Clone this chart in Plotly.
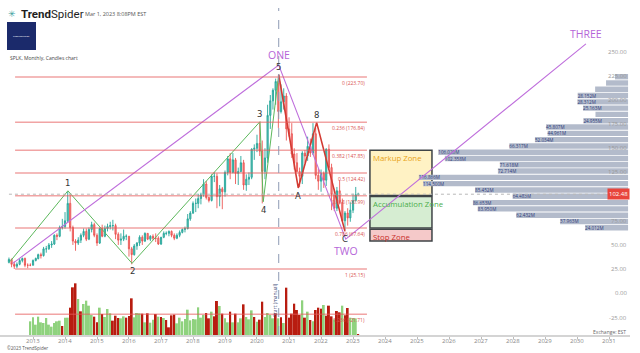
import pandas as pd
import plotly.graph_objects as go

# ---------------- DATA ----------------
candle_start = "2012-04-01"
opens = [
    32, 35, 30, 28, 30, 34, 36, 29, 29,
    29, 34, 36, 40, 39, 46, 46, 50, 51, 60, 59, 68,
    69, 75, 93, 68, 54, 52, 55, 60, 64, 56, 66, 71,
    60, 52, 67, 59, 67, 69, 70, 70, 61, 55, 56, 59,
    59, 46, 40, 49, 52, 58, 54, 62, 56, 59, 57, 57,
    51, 58, 62, 62, 64, 60, 57, 60, 63, 66, 67, 77,
    83, 93, 93, 98, 102, 113, 99, 96, 121, 121, 100, 108,
    105, 125, 139, 125, 138, 124, 126, 135, 112, 118, 120, 149,
    150, 155, 147, 126, 140, 184, 199, 210, 219, 188, 198, 204,
    170, 165, 144, 135, 126, 121, 145, 142, 152, 145, 165, 122,
    116, 124, 117, 149, 130, 102, 88, 106, 94, 75, 83, 78,
    86, 96, 102]
highs = [
    37, 36, 33, 32, 36, 37, 37, 31, 31,
    35, 37, 41, 42, 48, 49, 52, 54, 61, 62, 70, 77,
    84, 105, 103, 70, 56, 58, 62, 67, 67, 68, 74, 73,
    62, 68, 71, 70, 72, 74, 76, 72, 63, 62, 66, 61,
    59, 48, 51, 53, 60, 60, 63, 62, 60, 61, 62, 59,
    58, 64, 64, 65, 65, 62, 62, 65, 67, 69, 82, 85,
    95, 98, 103, 104, 118, 116, 100, 123, 125, 124, 112, 110,
    127, 142, 145, 145, 140, 130, 142, 138, 123, 125, 150, 154,
    164, 176, 158, 150, 195, 205, 212, 222, 226, 216, 212, 207,
    182, 176, 150, 145, 130, 147, 148, 162, 160, 176, 171, 129,
    128, 126, 150, 154, 134, 108, 110, 117, 98, 85, 88, 94,
    103, 110, 104]
lows = [
    31, 27, 25.15, 26, 29, 32, 27, 26, 28,
    29, 33, 35, 36, 38, 42, 45, 47, 50, 55, 58, 66,
    67, 73, 64, 50, 44, 50, 52, 58, 54, 55, 63, 58,
    49, 51, 58, 58, 64, 66, 65, 56, 50, 50, 54, 55,
    38, 30, 39, 45, 49, 50, 53, 55, 54, 55, 53, 50,
    50, 57, 60, 59, 58, 55, 56, 58, 62, 63, 66, 75,
    82, 84, 88, 92, 100, 97, 94, 95, 115, 88, 90, 87,
    100, 122, 118, 124, 113, 112, 125, 107, 106, 112, 118, 138,
    146, 142, 93, 118, 135, 170, 190, 195, 171, 186, 190, 158,
    162, 140, 128, 125, 110, 113, 135, 137, 141, 143, 118, 107,
    105, 109, 111, 128, 86, 85, 85, 92, 74, 65.5, 70, 74,
    83, 95, 101]
closes = [
    35, 30, 28, 30, 34, 36, 29, 29, 29,
    34, 36, 40, 39, 46, 46, 50, 51, 60, 59, 68, 69,
    75, 93, 68, 54, 52, 55, 60, 64, 56, 66, 71, 60,
    52, 67, 59, 67, 69, 70, 70, 61, 55, 56, 59, 59,
    46, 40, 49, 52, 58, 54, 62, 56, 59, 57, 57, 51,
    58, 62, 62, 64, 60, 57, 60, 63, 66, 67, 77, 83,
    93, 93, 98, 102, 113, 99, 96, 121, 121, 100, 108, 105,
    125, 139, 125, 138, 124, 126, 135, 112, 118, 120, 149, 150,
    155, 147, 126, 140, 184, 199, 210, 219, 188, 198, 204, 170,
    165, 144, 135, 126, 121, 145, 142, 152, 145, 165, 122, 116,
    124, 117, 149, 130, 102, 88, 106, 94, 75, 83, 78, 86,
    96, 102, 102.48]

volume_start = "2012-12-01"
volumes = [
    41, 53, 31, 55, 38, 36, 51, 31, 25, 36, 41, 43,
    27, 52, 52, 82, 143, 155, 108, 71, 93, 103, 88, 60,
    55, 38, 82, 63, 54, 78, 65, 43, 58, 51, 50, 56,
    52, 57, 110, 53, 66, 65, 64, 38, 65, 37, 46, 63,
    55, 54, 51, 45, 23, 59, 61, 35, 52, 41, 48, 76,
    44, 48, 47, 83, 52, 60, 66, 50, 70, 56, 102, 87,
    64, 50, 38, 70, 38, 64, 38, 50, 92, 54, 47, 74,
    54, 40, 46, 100, 54, 66, 60, 50, 65, 50, 53, 36,
    142, 52, 64, 94, 75, 60, 104, 52, 70, 45, 41, 75,
    82, 79, 90, 58, 88, 56, 47, 72, 68, 88, 59, 81,
    52, 51, 50, 3]
volume_dir = ("gggggggggggg" "rggrrrgrgggg" "rrgrgggrrrgg" "rrrgggrgrggr"
              "grgrrrrggggg" "ggggggrrgrrg" "rggrgrggrggg" "rgrrggggrgrg"
              "rrrrrrgrgrgr" "rrgrrrgrrgrr" "gggr")

fib_ratios = ["0", "0.236", "0.382", "0.5", "0.618", "0.786", "1", "1.236"]
fib_prices = [223.70, 176.84, 147.85, 124.42, 100.99, 67.64, 25.15, -21.71]
fib_start, fib_end = "2012-06-10", "2023-06-09"

green_x = ["2012-04-15", "2014-02-03", "2016-02-05", "2020-02-04", "2020-03-12", "2020-09-05"]
green_y = [33, 106, 31, 177.5, 94.7, 226]
green_labels = ["", "1", "2", "3", "4", "5"]
red_x = ["2020-09-05", "2021-04-16", "2021-11-12", "2022-10-01"]
red_y = [226, 109, 176.5, 64]
red_labels = ["", "A", "8", "C"]
purple_x = ["2012-05-15", "2020-09-05", "2022-10-10", "2030-04-12"]
purple_y = [31, 236, 56, 258]
purple_labels = ["", "ONE", "TWO", "THREE"]

profile_prices = [67.8, 74.3, 80.8, 87.3, 93.8, 100.4, 106.9, 113.4, 119.9, 126.4,
                  132.9, 139.4, 145.9, 152.4, 158.9, 165.4, 172.0, 178.5, 185.0,
                  191.5, 198.0, 204.5, 211.0, 217.5, 224.0]
profile_volumes = [24.012, 37.963, 62.432, 83.950, 86.653, 64.483, 85.452, 114.500,
                   116.866, 72.714, 71.618, 102.358, 106.020, 66.317, 52.034, 44.961,
                   45.807, 24.955, 18.2, 25.163, 28.312, 28.152, 18.4, 12.3, 7.3]
profile_labeled = [1, 1, 1, 1, 1, 1, 1, 1, 1, 1, 1, 1, 1, 1, 1, 1, 1, 1, 0, 1, 1, 1, 0, 0, 0]

zone_names = ["Markup Zone", "Accumulation Zone", "Stop Zone"]
zone_low = [101.2, 67.64, 54.0]
zone_high = [147.85, 100.2, 66.3]
zone_fill = ["#fff2c4", "#d6edd2", "#f5c9c9"]
zone_text = ["#e8a317", "#4cae4c", "#c9302c"]
zone_start, zone_end = "2023-07-13", "2025-06-20"

last_price = 102.48
start_marker = "2020-09-05"
price_ticks = [-25, 0, 25, 50, 75, 125, 150, 175, 200, 225, 250]
tick_years = [2013, 2014, 2015, 2016, 2017, 2018, 2019, 2020, 2021, 2022,
              2023, 2024, 2025, 2026, 2027, 2028, 2029, 2030, 2031]

# ---------------- LAYOUT CONSTANTS ----------------
W_PLOT, H_PLOT = 630, 335
X_RANGE = ["2011-12-21", "2031-08-28"]
Y_RANGE = [-43.1, 303.3]
PX_PER_DAY = 32 / 365.25
PX_PER_M = 1.79
PROFILE_BASE = "2031-08-06"
MS_PER_M = PX_PER_M / PX_PER_DAY * 86400000


def pxx(v):
    return v / W_PLOT


def pxy(v):
    return 1 - v / H_PLOT


months = pd.date_range(candle_start, periods=len(closes), freq="MS")
vol_months = pd.date_range(volume_start, periods=len(volumes), freq="MS")
year_dates = [f"{y}-01-01" for y in tick_years]

fig = go.Figure()

# volume profile bars (horizontal, anchored at the right edge)
fig.add_trace(go.Bar(
    y=profile_prices,
    x=[-v * MS_PER_M for v in profile_volumes],
    base=[PROFILE_BASE] * len(profile_prices),
    orientation="h", width=5.6,
    marker=dict(color="#b3bbcb", line=dict(width=0)),
    text=[f"{v:.3f}M" if lab else "" for v, lab in zip(profile_volumes, profile_labeled)],
    textposition="inside", insidetextanchor="end", constraintext="none",
    textfont=dict(size=4.6, color="#2d3a7a"), textangle=0,
    hoverinfo="skip", xaxis="x", yaxis="y"))

# volume bars
fig.add_trace(go.Bar(
    x=vol_months, y=volumes, yaxis="y2",
    width=22 * 86400000,
    marker=dict(color=["#8fd27e" if d == "g" else "#b81c10" for d in volume_dir],
                line=dict(width=0)),
    hoverinfo="skip"))

# candles
fig.add_trace(go.Candlestick(
    x=months, open=opens, high=highs, low=lows, close=closes,
    increasing=dict(line=dict(color="rgba(38,166,154,0.9)", width=1),
                    fillcolor="rgba(38,166,154,0.7)"),
    decreasing=dict(line=dict(color="rgba(235,80,78,0.85)", width=1),
                    fillcolor="rgba(235,80,78,0.65)"),
    whiskerwidth=0, hoverinfo="skip"))

# wave lines
fig.add_trace(go.Scatter(x=green_x, y=green_y, mode="lines",
                         line=dict(color="#5cb85c", width=1), hoverinfo="skip"))
fig.add_trace(go.Scatter(x=red_x, y=red_y, mode="lines",
                         line=dict(color="#d23a32", width=1.6), hoverinfo="skip"))
fig.add_trace(go.Scatter(x=purple_x, y=purple_y, mode="lines",
                         line=dict(color="#bf6fdc", width=1.1), hoverinfo="skip"))

shapes = []
annotations = []

# zones
for name, lo, hi, fc, tc in zip(zone_names, zone_low, zone_high, zone_fill, zone_text):
    shapes.append(dict(type="rect", xref="x", yref="y", x0=zone_start, x1=zone_end,
                       y0=lo, y1=hi, fillcolor=fc, line=dict(color="#3f4447", width=1.5),
                       layer="below"))
    annotations.append(dict(x=zone_start, y=hi, xref="x", yref="y", text=name,
                            showarrow=False, xanchor="left", yanchor="top", xshift=1, yshift=-1,
                            font=dict(size=7.8, color=tc, family="Open Sans")))

# fib levels
for r, p in zip(fib_ratios, fib_prices):
    shapes.append(dict(type="line", xref="x", yref="y", x0=fib_start, x1=fib_end,
                       y0=p, y1=p, line=dict(color="rgba(229,90,90,0.55)", width=1.5),
                       layer="above"))
    annotations.append(dict(x=fib_end, y=p, xref="x", yref="y", text=f"{r} ({p:.2f})",
                            showarrow=False, xanchor="right", yanchor="top", yshift=-1,
                            font=dict(size=5, color="#d9534f", family="Open Sans")))

# last price dotted line
shapes.append(dict(type="line", xref="x", yref="y", x0=candle_start, x1=PROFILE_BASE,
                   y0=last_price, y1=last_price,
                   line=dict(color="#b8b8b8", width=1, dash="dot"), layer="above"))
# start marker vertical dashed line
shapes.append(dict(type="line", xref="x", yref="paper", x0=start_marker, x1=start_marker,
                   y0=0, y1=pxy(8), line=dict(color="#8d9ab4", width=1, dash="dash"),
                   layer="above"))
annotations.append(dict(x=start_marker, y=pxy(300), xref="x", yref="paper",
                        text="Start (manual)", textangle=-90, showarrow=False, xshift=-4,
                        xanchor="center", yanchor="middle",
                        font=dict(size=5, color="#44507a", family="Open Sans")))

# wave labels
for xs, ys, labs in ((green_x, green_y, green_labels), (red_x, red_y, red_labels)):
    for xv, yv, lab in zip(xs, ys, labs):
        if not lab:
            continue
        up = lab in ("1", "3", "5", "8")
        annotations.append(dict(x=xv, y=yv, xref="x", yref="y", text=lab, showarrow=False,
                                yshift=8 if up else -8,
                                font=dict(size=8.5, color="#333333", family="DejaVu Sans")))
for xv, yv, lab in zip(purple_x, purple_y, purple_labels):
    if not lab:
        continue
    annotations.append(dict(x=xv, y=yv, xref="x", yref="y", text=lab, showarrow=False,
                            yshift=-12 if lab == "TWO" else 10,
                            font=dict(size=10.5, color="#b565d8", family="Open Sans")))

# price scale labels (drawn on top of the profile bars)
for v in price_ticks:
    annotations.append(dict(x=1, y=v, xref="paper", yref="y", text=f"{v:.2f}",
                            showarrow=False, xanchor="right", yanchor="middle", xshift=-1,
                            font=dict(size=6, color="#9a9a9a", family="Open Sans")))

# time scale labels
for yd, yr in zip(year_dates, tick_years):
    annotations.append(dict(x=yd, y=pxy(341), xref="x", yref="paper", text=str(yr),
                            showarrow=False, xanchor="center", yanchor="middle",
                            font=dict(size=6, color="#888888", family="Open Sans")))

# last price tag
annotations.append(dict(x=1, y=last_price, xref="paper", yref="y", text=f"{last_price:.2f}",
                        showarrow=False, xanchor="right", yanchor="middle",
                        bgcolor="#e8453c", borderpad=1,
                        font=dict(size=6, color="white", family="Open Sans")))

# header
shapes.append(dict(type="rect", xref="paper", yref="paper", x0=pxx(7), x1=pxx(36),
                   y0=pxy(50), y1=pxy(22), fillcolor="#1b2a6b", line=dict(width=0),
                   layer="above"))


def paper_text(xp, yp, text, size, color, anchor="left", family="Open Sans"):
    return dict(x=pxx(xp), y=pxy(yp), xref="paper", yref="paper", text=text,
                showarrow=False, xanchor=anchor, yanchor="middle",
                font=dict(size=size, color=color, family=family))


annotations += [
    paper_text(21.5, 36, "TRENDSPIDER", 2.5, "white", "center"),
    paper_text(12, 14, "✳", 9, "#3a9fa0", "center", "DejaVu Sans"),
    paper_text(19, 14, "<b>Trend</b>Spider", 11.5, "#1e1e1e", "left", "Roboto"),
    paper_text(83, 14, "Mar 1, 2023 8:08PM EST", 5.5, "#555555"),
    paper_text(8, 58, "SPLK, Monthly, Candles chart", 5, "#444444"),
    paper_text(628, 332, "Exchange: EST", 5, "#666666", "right"),
    paper_text(5, 348, "©2023 TrendSpider", 4.5, "#555555"),
]

fig.update_layout(
    width=640, height=353,
    margin=dict(l=0, r=10, t=0, b=18),
    paper_bgcolor="white", plot_bgcolor="white",
    showlegend=False, barmode="overlay",
    font=dict(family="Open Sans"),
    shapes=shapes, annotations=annotations,
    xaxis=dict(type="date", range=X_RANGE, showgrid=False, zeroline=False,
               rangeslider=dict(visible=False),
               showline=True, linecolor="#d4d4d4", linewidth=2,
               ticks="outside", ticklen=2, tickcolor="#bbbbbb",
               tickvals=year_dates, showticklabels=False),
    yaxis=dict(range=Y_RANGE, side="right", showticklabels=False,
               showgrid=False, zeroline=False, showline=False, ticks=""),
    yaxis2=dict(overlaying="y", range=[0, 1005], visible=False),
)

fig.write_html("out.html")
